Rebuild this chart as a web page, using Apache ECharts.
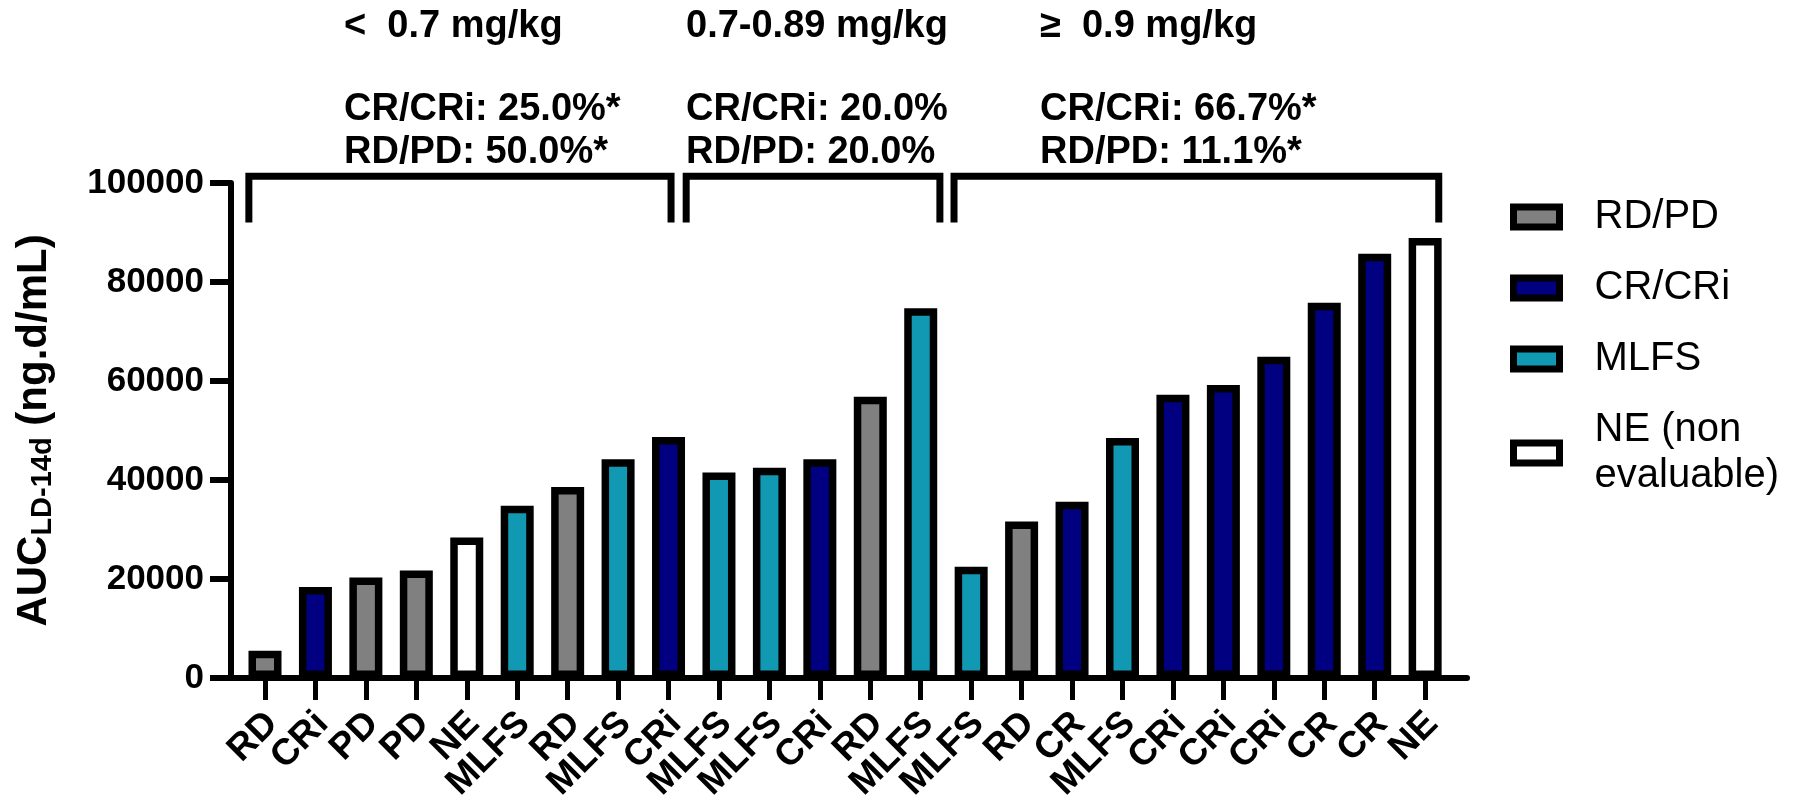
<!DOCTYPE html>
<html><head><meta charset="utf-8">
<script src="https://cdn.jsdelivr.net/npm/echarts@6/dist/echarts.min.js"></script>
<style>html,body{margin:0;padding:0;background:#fff}#c{width:1793px;height:805px}</style>
</head><body><div id="c"></div>
<script>
// ---- data ----
const categories = ['RD','CRi','PD','PD','NE','MLFS','RD','MLFS','CRi',
  'MLFS','MLFS','CRi','RD','MLFS',
  'MLFS','RD','CR','MLFS','CRi','CRi','CRi','CR','CR','NE'];
const values = [5500,18400,20300,21700,28400,34800,38600,44200,48700,
  41500,42500,44200,56800,74700,
  22500,31600,35600,48500,57200,59200,64900,75800,85700,88900];
const responseGroup = ['RD/PD','CR/CRi','RD/PD','RD/PD','NE','MLFS','RD/PD','MLFS','CR/CRi',
  'MLFS','MLFS','CR/CRi','RD/PD','MLFS',
  'MLFS','RD/PD','CR/CRi','MLFS','CR/CRi','CR/CRi','CR/CRi','CR/CRi','CR/CRi','NE'];
const legendNames = ['RD/PD','CR/CRi','MLFS','NE (non\nevaluable)'];
const legendKeys = ['RD/PD','CR/CRi','MLFS','NE'];
const yTicks = [0,20000,40000,60000,80000,100000];
const doseGroups = ['<  0.7 mg/kg','0.7-0.89 mg/kg','\u2265  0.9 mg/kg'];
const crRates = ['CR/CRi: 25.0%*','CR/CRi: 20.0%','CR/CRi: 66.7%*'];
const rdRates = ['RD/PD: 50.0%*','RD/PD: 20.0%','RD/PD: 11.1%*'];
const bracketSpans = [[-0.32, 8.05],[8.35, 13.38],[13.66, 23.27]];
const bracketTop = 101350, bracketFoot = 92000;

// ---- styles / layout ----
const FONT = '"Liberation Sans", Arial, sans-serif';
const colors = {'RD/PD':'#808080','CR/CRi':'#000080','MLFS':'#1199B4','NE':'#FFFFFF'};
const AX_LEFT = 231, AX_TOP = 183, AX_H = 495, AX_W = 1236;
const X_MIN = -0.674, X_MAX = 23.83;
const step = AX_W / (X_MAX - X_MIN);
const chart = echarts.init(document.getElementById('c'), null, {renderer:'canvas'});

const barSeries = legendKeys.map((k, si) => ({
  type:'bar', name: legendNames[si], xAxisIndex:1, yAxisIndex:1,
  data: values.map((v,i) => responseGroup[i] === k ? v : '-'),
  barWidth: 33, barGap: '-100%',
  itemStyle:{color: colors[k], borderColor:'#000', borderWidth:7.5},
  z: 2
}));
const bracketSeries = bracketSpans.map(([a,b]) => ({
  type:'line', xAxisIndex:0, yAxisIndex:0,
  data:[[a,bracketFoot],[a,bracketTop],[b,bracketTop],[b,bracketFoot]],
  symbol:'none', clip:false, silent:true, z:5,
  lineStyle:{color:'#000', width:7, join:'miter', cap:'butt'}
}));

const textX = [344, 686, 1040];
const graphics = [];
doseGroups.forEach((t,i) => {
  [[t,27],[crRates[i],110],[rdRates[i],153]].forEach(([s,y]) => graphics.push({
    type:'text', x:textX[i], y:y, silent:true,
    style:{text:s, fontSize:38, fontWeight:'bold', fontFamily:FONT, fill:'#000', verticalAlign:'middle', align:'left'}
  }));
});

const yBase = {type:'value', min:yTicks[0], max:yTicks[yTicks.length-1], interval:yTicks[1]-yTicks[0]};
chart.setOption({
  animation:false,
  backgroundColor:'#fff',
  grid:[
    {left:AX_LEFT, top:AX_TOP, width:AX_W, height:AX_H},
    {left:AX_LEFT + (0 - X_MIN) * step - step/2, top:AX_TOP, width:categories.length * step, height:AX_H}
  ],
  legend:{
    data: legendNames, orient:'vertical', left:1510, top:194, padding:0,
    icon:'rect', itemWidth:46, itemHeight:20, itemGap:25,
    itemStyle:{borderColor:'#000', borderWidth:7},
    textStyle:{fontSize:40, fontFamily:FONT, color:'#000', padding:[0,0,0,30], lineHeight:46},
    selectedMode:false
  },
  xAxis:[
    { gridIndex:0, type:'value', min:X_MIN, max:X_MAX,
      splitLine:{show:false}, axisTick:{show:false}, axisLabel:{show:false},
      axisLine:{show:true, onZero:false, lineStyle:{color:'#000', width:6}} },
    { gridIndex:1, type:'category', data:categories, boundaryGap:true,
      axisLine:{show:false},
      axisTick:{show:true, alignWithLabel:true, interval:0, length:22, lineStyle:{color:'#000', width:5}},
      axisLabel:{interval:0, rotate:45, margin:33, verticalAlign:'top', lineHeight:20,
        fontSize:37, fontWeight:'bold', fontFamily:FONT, color:'#000'} }
  ],
  yAxis:[
    Object.assign({}, yBase, {
      gridIndex:0,
      splitLine:{show:false},
      axisLine:{show:true, onZero:false, lineStyle:{color:'#000', width:6}},
      axisTick:{show:true, length:21, lineStyle:{color:'#000', width:6}},
      axisLabel:{formatter: v => String(v), margin:27, fontSize:35, fontWeight:'bold', fontFamily:FONT, color:'#000'},
      name:'{m|AUC}{s|LD-14d}{m| (ng.d/mL)}', nameLocation:'middle', nameRotate:90, nameGap:173,
      nameTextStyle:{rich:{
        m:{fontSize:42, fontWeight:'bold', fontFamily:FONT, color:'#000', lineHeight:48},
        s:{fontSize:29, fontWeight:'bold', fontFamily:FONT, color:'#000', lineHeight:29, padding:[17,0,0,0]}
      }}
    }),
    Object.assign({}, yBase, {gridIndex:1, show:false, splitLine:{show:false}})
  ],
  series: barSeries.concat(bracketSeries),
  graphic: graphics
});
</script></body></html>
